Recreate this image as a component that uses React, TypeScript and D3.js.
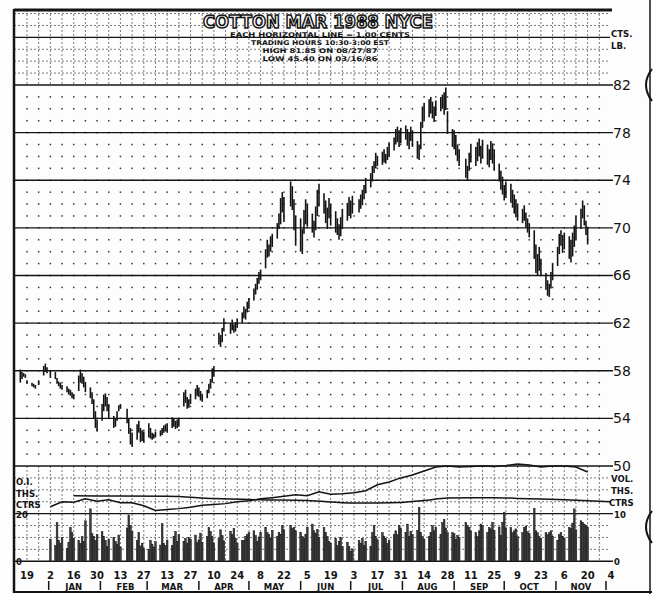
import * as d3 from 'd3';
import { useEffect, useRef } from 'react';

// trading weeks Mon..Fri from Dec 15 1986 to Nov 20 1987, null = exchange closed
const firstDay = new Date(1986, 11, 15);
const lastDay = new Date(1987, 10, 21);

// daily highs, cents/lb
const highs = [
  58.1, 57.9, 57.8, 57.7, 57.2,
  57.0, 56.9, 56.8, null, 57.2,
  58.4, 58.6, 58.3, null, 58.0,
  57.9, 57.4, 57.1, 57.0, 56.8,
  56.7, 56.5, 56.4, 56.2, 56.0,
  57.6, 58.1, 57.8, 57.5, 57.0,
  56.6, 56.2, 55.6, 54.6, 53.9,
  55.2, 56.0, 56.1, 55.8, 55.2,
  54.2, 54.0, 54.6, 55.1, 55.2,
  null, 54.8, 54.0, 53.2, 52.8,
  53.5, 53.8, 53.2, 53.0, 52.9,
  53.6, 53.2, 52.8, 52.7, 52.9,
  53.0, 53.2, 53.4, 53.5, 53.6,
  54.1, 54.0, 53.8, 53.9, 54.0,
  56.2, 56.4, 55.8, 55.6, 56.0,
  56.5, 56.8, 56.6, 56.3, 56.0,
  56.4, 56.9, 57.3, 58.2, 58.4,
  61.2, 61.0, 61.6, 62.4, null,
  62.0, 62.3, 61.9, 62.1, 62.4,
  62.9, 63.4, 63.2, 63.8, 64.1,
  64.9, 65.3, 65.8, 66.3, 66.5,
  68.2, 69.0, 68.6, 69.3, 69.5,
  70.4, 71.2, 72.5, 73.0, 72.6,
  null, 73.9, 73.5, 72.4, 71.0,
  70.8, 69.9, 71.5, 72.4, 72.0,
  71.2, 70.6, 71.8, 73.2, 73.7,
  72.9, 72.3, 71.7, 72.5, 72.0,
  71.4, 70.8, 70.3, 70.9, 71.6,
  72.1, 72.6, 72.3, 72.7, null,
  72.4, 72.8, 73.2, 73.6, 74.2,
  74.6, 75.2, 75.6, 76.3, 76.0,
  76.4, 76.6, 76.2, 76.8, 77.2,
  77.6, 78.3, 78.5, 78.2, 78.4,
  78.6, 78.3, 78.0, 78.5, 78.2,
  77.3, 77.0, 78.9, 80.2, 80.5,
  80.8, 81.0, 80.6, 80.2, 80.7,
  81.0, 81.2, 81.4, 81.8, 79.8,
  78.3, 78.2, 77.8, 77.0, 76.6,
  null, 75.8, 75.2, 76.3, 77.0,
  76.8, 77.2, 77.5, 76.9, 77.4,
  77.0, 76.6, 77.3, 77.1, 76.6,
  75.4, 74.8, 74.3, 73.6, 73.9,
  73.7, 73.2, 72.8, 72.4, 72.0,
  71.6, 71.9, 71.3, 70.8, 70.4,
  69.8, 68.6, 67.8, 68.4, 67.4,
  66.2, 65.6, 65.3, 66.3, 67.0,
  68.4, 69.5, 69.8, 69.4, 69.6,
  69.3, 69.0, 69.6, 70.2, 71.0,
  71.6, 72.3, 71.9, 70.6, 70.1,
];

// daily lows, cents/lb
const lows = [
  57.0, 57.3, 57.5, 57.4, 56.9,
  56.7, 56.6, 56.5, null, 56.8,
  57.6, 57.9, 57.8, null, 57.4,
  57.3, 56.9, 56.7, 56.5, 56.4,
  56.2, 56.0, 55.9, 55.7, 55.6,
  56.3, 57.0, 56.9, 56.6, 56.2,
  55.7, 55.2, 54.0, 53.2, 52.9,
  53.8, 54.6, 55.0, 54.6, 54.0,
  53.2, 53.3, 53.8, 54.6, 54.8,
  null, 53.6, 52.7, 51.8, 51.6,
  52.2, 52.8, 52.0, 52.1, 52.0,
  52.4, 52.3, 52.2, 52.3, 52.4,
  52.5, 52.6, 52.8, 52.9, 52.8,
  53.2, 53.3, 53.1, 53.2, 53.3,
  55.0, 55.3, 54.8, 54.9, 55.2,
  55.6, 55.9, 55.8, 55.5, 55.4,
  55.7, 56.1, 56.5, 57.0, 57.5,
  60.2, 60.0, 60.4, 61.3, null,
  61.1, 61.4, 61.2, 61.3, 61.6,
  62.0, 62.4, 62.3, 62.9, 63.2,
  63.9, 64.4, 64.8, 65.3, 65.6,
  66.6, 67.5, 67.6, 68.0, 68.4,
  69.1, 69.9, 70.3, 71.3, 70.5,
  null, 71.8, 71.5, 69.8, 68.5,
  68.0, 67.8, 69.5, 70.3, 70.1,
  69.6, 69.2, 69.8, 71.0, 71.8,
  71.2, 70.4, 69.9, 70.8, 70.2,
  69.6, 69.4, 69.0, 69.3, 69.9,
  70.6, 71.0, 70.8, 71.2, null,
  71.3, 71.6, 71.9, 72.4, 72.9,
  73.4, 73.9, 74.6, 75.0, 75.2,
  75.3, 75.5, 75.4, 75.7, 76.0,
  76.5, 77.0, 77.2, 76.8, 77.1,
  77.4, 76.9, 76.6, 77.3, 76.8,
  75.8, 75.7, 76.6, 78.4, 79.0,
  79.3, 79.6, 79.2, 78.9, 79.4,
  79.8, 80.0, 79.5, 79.9, 77.9,
  76.8, 76.6, 76.1, 75.6, 75.2,
  null, 74.2, 74.0, 74.8, 75.5,
  75.2, 75.6, 76.0, 75.4, 75.8,
  75.3, 75.1, 75.7, 75.4, 74.8,
  73.9, 73.2, 72.8, 72.3, 72.5,
  72.1, 71.7, 71.2, 70.9, 70.6,
  70.4, 70.6, 70.0, 69.6, 69.2,
  67.4, 66.2, 66.0, 66.4, 66.0,
  64.8, 64.3, 64.2, 64.9, 65.6,
  66.8, 67.8, 68.5, 67.9, 68.2,
  67.4, 67.1, 67.6, 68.4, 69.0,
  69.9, 70.8, 70.2, 69.4, 68.6,
];

// daily volume, thousand contracts
const volumes = [
  null, null, null, null, null,
  null, null, null, null, null,
  null, null, null, null, 4.6,
  3.3, 8.1, 4.4, 3.8, 5.0,
  2.7, 4.0, 7.1, 6.0, 4.8,
  4.4, 3.8, 5.2, 4.1, 8.5,
  11.0, 5.8, 5.2, 4.4, 5.6,
  6.2, 5.2, 4.4, 3.1, 4.6,
  5.0, 4.2, 3.6, 5.5, 3.0,
  null, 7.0, 9.7, 7.5, 6.3,
  4.4, 6.0, 3.2, 3.8, 2.7,
  2.5, 4.4, 3.6, 3.0, 4.1,
  3.4, 7.9, 3.7, 3.3, 4.4,
  3.3, 5.2, 6.3, 4.2, 5.6,
  4.2, 4.8, 3.8, 5.0, 4.6,
  5.5, 3.9, 4.5, 5.9, 4.0,
  5.2, 7.1, 6.3, 5.2, 3.8,
  4.8, 6.6, 5.4, 4.3, null,
  6.3, 5.6, 6.9, 4.8, 3.8,
  4.4, 4.4, 5.2, 5.6, 6.0,
  6.4, 5.4, 4.2, 5.1, 6.0,
  7.1, 6.0, 5.6, 4.8, 6.5,
  5.2, 6.1, 5.6, 7.5, 6.6,
  null, 7.5, 6.9, 7.1, 6.4,
  6.0, 5.2, 4.8, 5.6, 7.1,
  7.8, 6.4, 5.9, 6.7, 5.0,
  7.1, 6.0, 5.2, 4.2, 3.8,
  4.8, 3.3, 4.2, 5.0, 3.1,
  4.0, 3.1, 2.1, 2.6, null,
  4.4, 3.8, 4.8, 3.3, 4.2,
  3.1, 6.0, 7.5, 5.2, 4.5,
  6.0, 5.2, 4.8, 3.8, 4.4,
  5.6, 6.4, 5.6, 7.5, 6.9,
  6.0, 7.8, 5.2, 6.3, 5.6,
  6.5, 11.3, 6.0, 5.2, 4.6,
  5.2, 6.0, 7.5, 6.4, 7.1,
  5.6, 8.1, 8.8, 7.0, 6.0,
  6.0, 5.8, 4.6, 5.4, 5.0,
  null, 8.1, 7.5, 7.1, 6.4,
  6.0, 5.2, 6.4, 7.8, 7.5,
  6.0, 7.1, 6.8, 8.1, 6.5,
  7.2, 5.4, 8.2, 10.3, 7.0,
  7.1, 6.0, 6.4, 6.8, 5.2,
  6.0, 7.1, 7.4, 6.2, 5.8,
  11.1, 6.4, 6.0, 5.2, 4.8,
  6.0, 5.6, 6.0, 6.4, 5.2,
  4.4, 5.6, 6.0, 5.2, 4.9,
  7.1, 6.9, 8.0, 11.0, 6.6,
  8.5, 8.1, 7.8, 7.5, 7.1,
];

// open interest, thousand contracts, each Friday Jan 2 .. Nov 20
const openInterest = [
  22.9, 25.0, 24.8, 26.2, 25.2,
  25.8, 24.6, 24.6, 23.3,
  21.3, 21.7, 22.1, 22.7,
  23.5, 23.8, 24.2, 25.0,
  25.4, 26.2, 26.7, 27.3, 27.9,
  27.5, 29.2, 28.1, 28.3,
  28.8, 29.6, 32.1, 33.3, 35.0,
  36.2, 37.9, 39.6, 40.0,
  39.6, 39.8, 40.0, 39.8,
  40.2, 40.8, 40.4, 39.6, 40.0,
  40.0, 39.6, 37.5,
];

// smooth average line in the lower panel
const avgDates = [
  '1987-01-16', '1987-02-13', '1987-03-13', '1987-04-10', '1987-05-08', '1987-06-05',
  '1987-07-03', '1987-07-17', '1987-07-31', '1987-08-14', '1987-08-28', '1987-09-11',
  '1987-09-25', '1987-10-09', '1987-10-23', '1987-11-06', '1987-11-20', '1987-12-04',
];
const avgValues = [27.5, 27.4, 27.3, 26.3, 25.8, 25.5, 24.5, 24.5, 24.7, 25.5, 26.6, 26.7, 26.7, 26.4, 26.1, 25.8, 25.4, 25.0];

const priceLabels = [82, 78, 74, 70, 66, 62, 58, 54, 50];
const headerLines = [
  'EACH HORIZONTAL LINE = 1.00 CENTS',
  'TRADING HOURS  10:30-3:00 EST',
  'HIGH   81.85 ON 08/27/87',
  'LOW    45.40 ON 03/16/86',
];

const ink = '#141414';
const font = 'DejaVu Sans, sans-serif';

export default function App() {
  const ref = useRef<SVGSVGElement>(null);

  useEffect(() => {
    const svg = d3.select(ref.current);
    svg.selectAll('*').remove();

    const left = 14;
    const right = 610;

    const x = d3
      .scaleTime()
      .domain([new Date(1986, 11, 19), new Date(1987, 11, 4)])
      .range([27, 611]);
    const y = d3.scaleLinear().domain([42, 88]).range([561.25, 13.56]);
    const yVol = d3.scaleLinear().domain([0, 10]).range([y(42), y(46)]);
    const yOi = d3.scaleLinear().domain([20, 40]).range([y(46), y(50)]);

    const days = d3.timeDay
      .range(firstDay, lastDay)
      .filter((d) => d.getDay() > 0 && d.getDay() < 6);
    const fridays = d3.timeFriday.range(new Date(1986, 11, 19), new Date(1987, 10, 28));

    svg.append('rect').attr('width', 653).attr('height', 594).attr('fill', '#fdfdfd');

    // dashed grid in header and lower panel
    const dashed = svg.append('g').attr('stroke', '#444').attr('stroke-width', 0.7).attr('stroke-dasharray', '2,2');
    const dashCents = [83, 84, 85, 87, 88, 43, 44, 45, 47, 48, 49];
    dashCents.forEach((c) => {
      dashed.append('line').attr('x1', left).attr('x2', right).attr('y1', y(c)).attr('y2', y(c));
    });
    fridays.forEach((f) => {
      dashed.append('line').attr('x1', x(f)).attr('x2', x(f)).attr('y1', 10).attr('y2', y(82));
      dashed.append('line').attr('x1', x(f)).attr('x2', x(f)).attr('y1', y(50)).attr('y2', y(42));
    });

    // dotted grid in price area
    const dots = svg.append('g').attr('fill', '#333');
    fridays.forEach((f) => {
      d3.range(51, 82).forEach((c) => {
        dots.append('rect').attr('x', x(f) - 0.75).attr('y', y(c) - 0.75).attr('width', 1.5).attr('height', 1.5);
      });
    });

    // solid lines every 4 cents
    [86, 82, 78, 74, 70, 66, 62, 58, 54, 50, 46, 42].forEach((c) => {
      svg
        .append('line')
        .attr('x1', left)
        .attr('x2', c === 86 ? right : 613)
        .attr('y1', y(c))
        .attr('y2', y(c))
        .attr('stroke', ink)
        .attr('stroke-width', 1.3);
    });

    // frame
    svg.append('line').attr('x1', left).attr('x2', right + 2).attr('y1', 10).attr('y2', 10).attr('stroke', ink).attr('stroke-width', 3);
    svg.append('line').attr('x1', left).attr('x2', left).attr('y1', 9).attr('y2', 593).attr('stroke', ink).attr('stroke-width', 2.5);
    svg.append('line').attr('x1', left).attr('x2', 652).attr('y1', 592).attr('y2', 592).attr('stroke', ink).attr('stroke-width', 2);
    svg.append('line').attr('x1', 650).attr('x2', 650).attr('y1', 0).attr('y2', 594).attr('stroke', ink).attr('stroke-width', 1.5);
    [y(82), 527].forEach((cy) => {
      svg
        .append('path')
        .attr('d', `M652,${cy - 16} Q640,${cy} 652,${cy + 16}`)
        .attr('fill', 'none')
        .attr('stroke', ink)
        .attr('stroke-width', 2);
    });

    // volume bars
    const volBars = svg.append('g');
    days.forEach((d, i) => {
      const v = volumes[i];
      if (v == null) return;
      volBars
        .append('rect')
        .attr('x', x(d) - 0.85)
        .attr('y', yVol(v))
        .attr('width', 1.7)
        .attr('height', yVol(0) - yVol(v))
        .attr('fill', '#3e3e3e')
        .attr('stroke', ink)
        .attr('stroke-width', 0.5);
    });

    // open interest and average
    const oiLine = d3
      .line<number>()
      .x((_d, i) => x(d3.timeFriday.offset(new Date(1987, 0, 2), i)))
      .y((d) => yOi(d));
    svg.append('path').attr('d', oiLine(openInterest)).attr('fill', 'none').attr('stroke', ink).attr('stroke-width', 1.5);

    const parse = d3.timeParse('%Y-%m-%d');
    const avgLine = d3
      .line<number>()
      .curve(d3.curveMonotoneX)
      .x((_d, i) => x(parse(avgDates[i]) as Date))
      .y((d) => yOi(d));
    svg.append('path').attr('d', avgLine(avgValues)).attr('fill', 'none').attr('stroke', ink).attr('stroke-width', 1.5);

    // price bars
    const bars = svg.append('g').attr('stroke', ink).attr('stroke-width', 1.6);
    days.forEach((d, i) => {
      const hi = highs[i];
      const lo = lows[i];
      if (hi == null || lo == null) return;
      bars.append('line').attr('x1', x(d)).attr('x2', x(d)).attr('y1', y(hi)).attr('y2', y(lo));
    });

    // right labels
    const rl = svg.append('g').attr('font-family', font).attr('fill', ink);
    priceLabels.forEach((p) => {
      rl.append('text').attr('x', 613).attr('y', y(p) + 5).attr('font-size', 14).text(p);
    });
    const small = (g: any, tx: number, ty: number, s: string) =>
      g.append('text').attr('x', tx).attr('y', ty).attr('font-size', 8.5).attr('font-weight', 'bold').text(s);
    small(rl, 611, 37, 'CTS.');
    small(rl, 611, 49, 'LB.');
    small(rl, 611, 482, 'VOL.');
    small(rl, 611, 494, 'THS.');
    small(rl, 609, 506, 'CTRS');
    small(rl, 614, y(46) + 4, '10');
    small(rl, 614, y(42) + 4, '0');
    small(rl, 16, 485, 'O.I.');
    small(rl, 16, 497, 'THS.');
    small(rl, 16, 508, 'CTRS');
    small(rl, 16, y(46) + 4, '20');
    small(rl, 16, y(42) + 4, '0');

    // title block
    svg
      .append('text')
      .attr('x', 318)
      .attr('y', 28)
      .attr('text-anchor', 'middle')
      .attr('font-family', font)
      .attr('font-size', 18)
      .attr('font-weight', 'bold')
      .attr('textLength', 230)
      .attr('lengthAdjust', 'spacingAndGlyphs')
      .attr('fill', '#fff')
      .attr('stroke', ink)
      .attr('stroke-width', 1.6)
      .attr('paint-order', 'fill')
      .text('COTTON MAR 1988 NYCE');
    const lens = [180, 138, 115, 115];
    const tys = [37, 45, 53, 61];
    headerLines.forEach((t, i) => {
      svg
        .append('text')
        .attr('x', 320)
        .attr('y', tys[i])
        .attr('text-anchor', 'middle')
        .attr('font-family', font)
        .attr('font-size', 6.5)
        .attr('font-weight', 'bold')
        .attr('textLength', lens[i])
        .attr('lengthAdjust', 'spacingAndGlyphs')
        .attr('fill', ink)
        .text(t);
    });

    // date axis
    const ticks = d3.timeFriday.range(new Date(1986, 11, 19), new Date(1987, 11, 5), 2);
    const fmt = d3.timeFormat('%-d');
    const ax = svg.append('g').attr('font-family', font).attr('font-weight', 'bold').attr('fill', ink);
    ticks.forEach((t) => {
      ax.append('text').attr('x', x(t)).attr('y', 579).attr('text-anchor', 'middle').attr('font-size', 10).text(fmt(t));
    });
    const months = d3.timeMonth.range(new Date(1987, 0, 1), new Date(1987, 11, 2));
    const mfmt = d3.timeFormat('%b');
    months.forEach((m) => {
      svg.append('line').attr('x1', x(m)).attr('x2', x(m)).attr('y1', 581).attr('y2', 590).attr('stroke', ink).attr('stroke-width', 1.5);
      if (m.getMonth() < 11) {
        ax.append('text')
          .attr('x', x(new Date(1987, m.getMonth(), 16)))
          .attr('y', 590)
          .attr('text-anchor', 'middle')
          .attr('font-size', 8.5)
          .text(mfmt(m).toUpperCase());
      }
    });
  }, []);

  return (
    <svg
      ref={ref}
      width={653}
      height={594}
      style={{ position: 'absolute', left: 0, top: 0 }}
    />
  );
}
